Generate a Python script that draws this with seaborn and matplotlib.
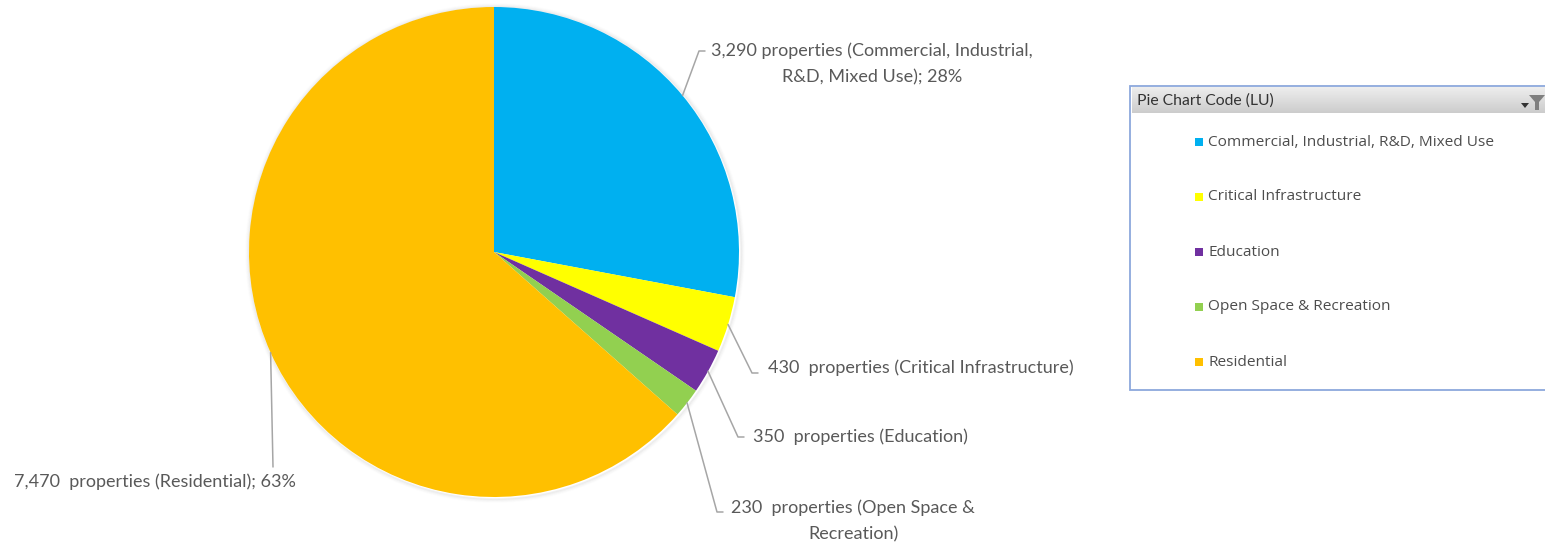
import numpy as np
import matplotlib
matplotlib.use("Agg")
import matplotlib.pyplot as plt
from matplotlib.patches import Rectangle, Polygon, Circle
import seaborn as sns

# Land-use breakdown of properties
categories = ["Commercial, Industrial, R&D, Mixed Use", "Critical Infrastructure",
              "Education", "Open Space & Recreation", "Residential"]
counts = [3290, 430, 350, 230, 7470]
slice_labels = [
    "3,290 properties (Commercial, Industrial,\nR&D, Mixed Use); 28%",
    "430  properties (Critical Infrastructure)",
    "350  properties (Education)",
    "230  properties (Open Space &\nRecreation)",
    "7,470  properties (Residential); 63%",
]
legend_title = "Pie Chart Code (LU)"

sns.set_theme(style="white")
palette = sns.color_palette(["#00B0F0", "#FFFF00", "#7030A0", "#92D050", "#FFC000"])
plt.rcParams["font.family"] = ["Lato", "DejaVu Sans"]

W, H = 1545, 542
fig = plt.figure(figsize=(W / 100, H / 100), dpi=100)
ax = fig.add_axes([0, 0, 1, 1])

cx, cy, r = 494, 252, 245

# soft shadow around the pie
for i, a in enumerate([0.10, 0.07, 0.04, 0.02]):
    ax.add_patch(Circle((cx + 1, cy + 1), r + 1 + i, facecolor="none",
                        edgecolor="#808080", lw=1.2, alpha=a, zorder=1))

# y axis points down, so counterclock in data space runs clockwise on screen
wedges, _ = ax.pie(counts, colors=palette, startangle=-90, counterclock=True,
                   center=(cx, cy), radius=r, frame=False,
                   wedgeprops=dict(linewidth=0, zorder=2))

ax.set_xlim(0, W)
ax.set_ylim(H, 0)
ax.set_aspect("equal")
ax.set_axis_off()

# label placement: (elbow x, elbow y, text x, text y, text alignment, layout mode)
label_layout = [
    (699, 51, 872, 51, "center", "top_first"),
    (752, 373, 768, 368, "left", "single"),
    (738, 437, 753, 437, "left", "single"),
    (717, 512, 853, 508, "center", "top_first"),
    (273, 467, 155, 482, "center", "below"),
]
leader_color = "#A6A6A6"
text_color = "#595959"
label_size = 13
total = sum(counts)
cum = np.cumsum([0] + counts)
for i, (ex, ey, tx, ty, ha, mode) in enumerate(label_layout):
    mid = (cum[i] + cum[i + 1]) / 2 / total * 2 * np.pi
    sx = cx + r * np.sin(mid)
    sy = cy - r * np.cos(mid)
    if mode == "below":
        ax.plot([sx, ex], [sy, ey], color=leader_color, lw=1.1, zorder=3)
    else:
        ax.plot([sx, ex, ex + 6], [sy, ey, ey], color=leader_color, lw=1.1, zorder=3)
    if mode == "top_first":
        lines = slice_labels[i].split("\n")
        ax.text(tx, ty, lines[0], ha="center", va="center", fontsize=label_size, color=text_color)
        ax.text(tx, ty + 26, lines[1], ha="center", va="center", fontsize=label_size, color=text_color)
    else:
        ax.text(tx, ty, slice_labels[i], ha=ha, va="center", fontsize=label_size, color=text_color)

# legend panel
bx0, by0, by1 = 1130, 86, 390
ax.add_patch(Rectangle((bx0, by0), W - bx0 + 5, by1 - by0, facecolor="white",
                       edgecolor="#8CA8DC", lw=1.3, zorder=4))
grad = np.linspace(0.93, 0.80, 50).reshape(-1, 1)
ax.imshow(grad, cmap="gray", vmin=0, vmax=1, aspect="auto",
          extent=(bx0 + 1.5, W, by0 + 27, by0 + 1.5), zorder=5)
ax.set_xlim(0, W)
ax.set_ylim(H, 0)
ax.text(bx0 + 7, by0 + 15, legend_title, ha="left", va="center", fontsize=11.3,
        color="#333333", zorder=6)
# filter button glyph
ax.add_patch(Polygon([[1529, 95], [1545, 95], [1539, 102], [1539, 110], [1535, 110],
                      [1535, 102]], closed=True, facecolor="#7F7F7F", edgecolor="none", zorder=6))
ax.add_patch(Polygon([[1521, 103], [1529, 103], [1525, 108]], closed=True,
                     facecolor="#333333", edgecolor="none", zorder=6))

for i, name in enumerate(categories):
    y = 142 + i * 55
    ax.add_patch(Rectangle((1195, y - 4), 8, 8, facecolor=palette[i], edgecolor="none", zorder=6))
    ax.text(1208, y, name, ha="left", va="center", fontsize=11.1, color="#4D4D4D", zorder=6,
            family=["Open Sans", "DejaVu Sans"])

fig.savefig("out.png", dpi=100, facecolor="white")
